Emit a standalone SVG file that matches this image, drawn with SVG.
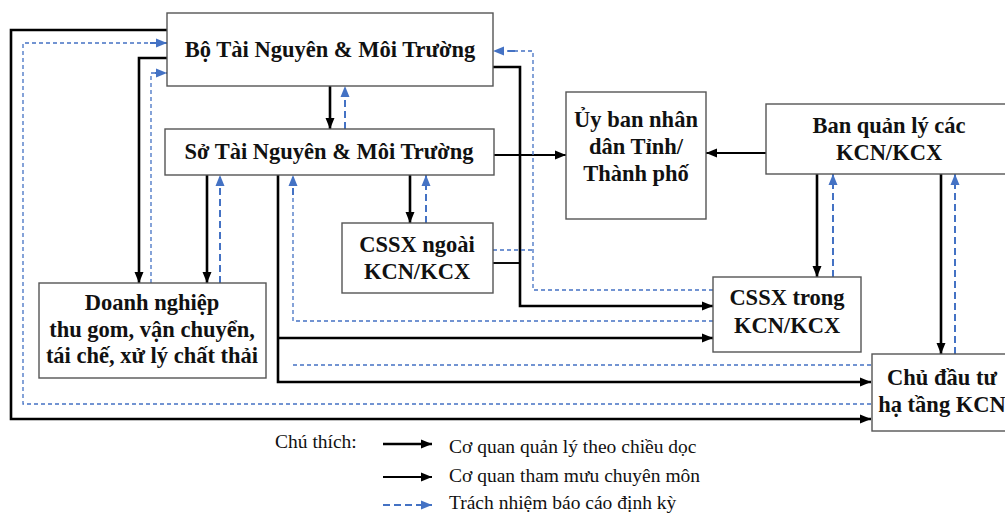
<svg xmlns="http://www.w3.org/2000/svg" width="1005" height="514" viewBox="0 0 1005 514">
<defs>
<marker id="ab" markerUnits="userSpaceOnUse" markerWidth="12" markerHeight="10" refX="11" refY="5" orient="auto"><path d="M0,0.5 L11,5 L0,9.5 z" fill="#000"/></marker>
<marker id="au" markerUnits="userSpaceOnUse" markerWidth="12" markerHeight="10" refX="11" refY="5" orient="auto"><path d="M0,0.5 L11,5 L0,9.5 z" fill="#4472C4"/></marker>
<style>
.box{fill:#fff;stroke:#555;stroke-width:1.4}
.t{font-family:'Liberation Serif','DejaVu Serif',serif;font-weight:bold;font-size:22.5px;fill:#111;text-anchor:middle}
.lg{font-family:'Liberation Serif','DejaVu Serif',serif;font-size:19.5px;fill:#111}
.k{fill:none;stroke:#000;stroke-width:2.6}
.kt{fill:none;stroke:#000;stroke-width:1.9}
.b{fill:none;stroke:#4472C4;stroke-width:2;stroke-dasharray:7,4}
.bt{fill:none;stroke:#4472C4;stroke-width:1.3;stroke-dasharray:4,3}
</style>
</defs>
<rect width="1005" height="514" fill="#fff"/>
<g id="connectors">
<path class="k" d="M167,30 H11 V419 H871" marker-end="url(#ab)"/>
<path class="k" d="M167,58 H139 V283" marker-end="url(#ab)"/>
<path class="k" d="M330,86 V129" marker-end="url(#ab)"/>
<path class="k" d="M207,175 V283" marker-end="url(#ab)"/>
<path class="k" d="M278,175 V382 H871" marker-end="url(#ab)"/>
<path class="k" d="M278,338 H713" marker-end="url(#ab)"/>
<path class="k" d="M493,67 H520 V306 H713" marker-end="url(#ab)"/>
<path class="kt" d="M493,263 H520"/>
<path class="k" d="M410,175 V223" marker-end="url(#ab)"/>
<path class="kt" d="M494,155 H566" marker-end="url(#ab)"/>
<path class="kt" d="M766,153 H706" marker-end="url(#ab)"/>
<path class="k" d="M817,174 V277" marker-end="url(#ab)"/>
<path class="k" d="M941,174 V354" marker-end="url(#ab)"/>
<path class="bt" d="M871,404 H23 V43 H160"/>
<path class="b" d="M150,43 H167" marker-end="url(#au)"/>
<path class="bt" d="M151,283 V73 H160"/>
<path class="b" d="M155,73 H167" marker-end="url(#au)"/>
<path class="b" d="M345,129 V86" marker-end="url(#au)"/>
<path class="b" d="M220,283 V175" marker-end="url(#au)"/>
<path class="bt" d="M713,321 H293 V190"/>
<path class="b" d="M293,195 V175" marker-end="url(#au)"/>
<path class="bt" d="M871,365 H293"/>
<path class="b" d="M426,223 V175" marker-end="url(#au)"/>
<path class="bt" d="M713,290 H533 V51 H505"/>
<path class="b" d="M515,51 H493" marker-end="url(#au)"/>
<path class="bt" d="M493,250 H533"/>
<path class="b" d="M833,277 V174" marker-end="url(#au)"/>
<path class="b" d="M955,354 V174" marker-end="url(#au)"/>
</g>
<g id="bo-tnmt"><rect class="box" x="167" y="13" width="326" height="73"/><text class="t" x="330" y="57">Bộ Tài Nguyên &amp; Môi Trường</text></g>
<g id="so-tnmt"><rect class="box" x="165" y="129" width="329" height="46"/><text class="t" x="329" y="159">Sở Tài Nguyên &amp; Môi Trường</text></g>
<g id="ubnd"><rect class="box" x="566" y="92" width="140" height="127"/><text class="t" x="636" y="127">Ủy ban nhân</text><text class="t" x="636" y="154">dân Tỉnh/</text><text class="t" x="636" y="181">Thành phố</text></g>
<g id="bql"><rect class="box" x="766" y="104" width="246" height="70"/><text class="t" x="889" y="133">Ban quản lý các</text><text class="t" x="889" y="160">KCN/KCX</text></g>
<g id="cssx-ngoai"><rect class="box" x="342" y="223" width="151" height="70"/><text class="t" x="417" y="252">CSSX ngoài</text><text class="t" x="417" y="279">KCN/KCX</text></g>
<g id="cssx-trong"><rect class="box" x="713" y="277" width="148" height="75"/><text class="t" x="787" y="305">CSSX trong</text><text class="t" x="787" y="333">KCN/KCX</text></g>
<g id="chu-dau-tu"><rect class="box" x="872" y="354" width="140" height="77"/><text class="t" x="942" y="385">Chủ đầu tư</text><text class="t" x="942" y="412">hạ tầng KCN</text></g>
<g id="doanh-nghiep"><rect class="box" x="39" y="283" width="227" height="95"/><text class="t" x="152" y="310">Doanh nghiệp</text><text class="t" x="152" y="337">thu gom, vận chuyển,</text><text class="t" x="152" y="363">tái chế, xử lý chất thải</text></g>
<g id="legend">
<text class="lg" x="275" y="448">Chú thích:</text>
<path class="k" d="M383,444 H432" marker-end="url(#ab)"/>
<text class="lg" x="449" y="453">Cơ quan quản lý theo chiều dọc</text>
<path class="kt" d="M383,477 H432" marker-end="url(#ab)"/>
<text class="lg" x="449" y="482">Cơ quan tham mưu chuyên môn</text>
<path class="b" d="M383,505 H432" marker-end="url(#au)"/>
<text class="lg" x="449" y="509">Trách nhiệm báo cáo định kỳ</text>
</g>
</svg>
